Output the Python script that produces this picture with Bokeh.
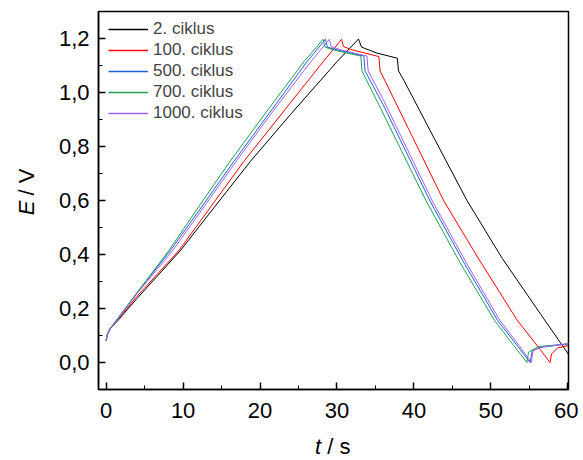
import math
from bokeh.plotting import figure
from bokeh.layouts import row, column
from bokeh.models import (Range1d, FixedTicker, CustomJSTickFormatter, Legend,
                          LegendItem)
from bokeh.core.properties import value
from bokeh.embed import file_html
from bokeh.resources import INLINE

# ---- data ----
t_2 = [0, 0.1, 0.5, 1.5, 4, 9.6, 14, 18.75, 24, 30.0, 32.8, 33.2, 35.2, 37.85,
       38.0, 38.7, 42.5, 46.9, 51.5, 56.5, 60.1]
E_2 = [0.08, 0.10, 0.125, 0.155, 0.237, 0.413, 0.573, 0.745, 0.92, 1.114, 1.198,
       1.168, 1.146, 1.127, 1.08, 1.045, 0.838, 0.60, 0.385, 0.178, 0.03]

t_100 = [0, 0.1, 0.5, 1.5, 4, 9.4, 13.5, 17.9, 23, 28.2, 30.6, 30.85, 32, 33.5,
         35.45, 35.6, 36.3, 40, 43.9, 48.5, 53.4, 56.5, 57.7, 57.9, 58.7, 60.1]
E_100 = [0.08, 0.10, 0.125, 0.158, 0.245, 0.413, 0.573, 0.745, 0.928, 1.114,
         1.197, 1.17, 1.158, 1.147, 1.133, 1.08, 1.04, 0.825, 0.598, 0.38,
         0.158, 0.045, 0.0, 0.032, 0.054, 0.063]

t_500 = [0, 0.1, 0.5, 1.5, 4, 8.3, 12.5, 16.6, 21.5, 26.1, 28.5, 28.75, 30,
         31.5, 33.5, 33.65, 36, 42.1, 46.5, 50.9, 53.5, 55.1, 55.4, 56.4, 60.1]
E_500 = [0.08, 0.10, 0.125, 0.163, 0.258, 0.413, 0.58, 0.745, 0.935, 1.114,
         1.197, 1.168, 1.158, 1.148, 1.135, 1.08, 0.955, 0.598, 0.37, 0.155,
         0.06, 0.0, 0.044, 0.056, 0.069]

t_700 = [0, 0.1, 0.5, 1.5, 4, 8.1, 12.1, 16.1, 21, 25.7, 28.2, 28.45, 29.5, 31,
         33.1, 33.25, 35.7, 41.6, 46, 50.5, 53, 54.7, 54.9, 56.2, 60.1]
E_700 = [0.08, 0.10, 0.125, 0.163, 0.258, 0.413, 0.58, 0.745, 0.935, 1.114,
         1.197, 1.168, 1.158, 1.148, 1.135, 1.08, 0.94, 0.598, 0.37, 0.155,
         0.062, 0.0, 0.038, 0.059, 0.069]

t_1000 = [0, 0.1, 0.5, 1.5, 4, 8.6, 12.8, 16.9, 21.8, 26.6, 29.0, 29.25, 30.5,
          32, 33.9, 34.05, 36, 42.4, 46.8, 51.2, 53.8, 55.25, 55.5, 56.5, 60.1]
E_1000 = [0.08, 0.10, 0.125, 0.16, 0.255, 0.413, 0.58, 0.745, 0.935, 1.114,
          1.197, 1.17, 1.158, 1.148, 1.135, 1.08, 0.975, 0.598, 0.37, 0.155,
          0.058, 0.0, 0.044, 0.057, 0.07]

labels = ["2. ciklus", "100. ciklus", "500. ciklus", "700. ciklus", "1000. ciklus"]
colors = ["#000000", "#ff0000", "#2060e0", "#20a050", "#a060f0"]
series = [(t_2, E_2), (t_100, E_100), (t_500, E_500), (t_700, E_700), (t_1000, E_1000)]

x_ticks = [0, 10, 20, 30, 40, 50, 60]
x_minor = [5, 15, 25, 35, 45, 55]
y_ticks = [0.0, 0.2, 0.4, 0.6, 0.8, 1.0, 1.2]
y_minor = [0.1, 0.3, 0.5, 0.7, 0.9, 1.1]

FONT = "Liberation Sans"
LEFT_W = 44      # width of the strip holding the y-axis title
MAIN_W = 534
MAIN_H = 427
TOTAL_H = 460

# ---- main chart ----
p = figure(width=MAIN_W, height=MAIN_H, output_backend="svg", toolbar_location=None,
           x_range=Range1d(-1, 60.1), y_range=Range1d(-0.1, 1.3),
           min_border_left=54, min_border_top=11, min_border_right=10,
           min_border_bottom=MAIN_H - 389)
p.xgrid.grid_line_color = None
p.ygrid.grid_line_color = None
p.outline_line_color = "black"
p.outline_line_width = 1.5
p.outline_line_alpha = 1.0

p.xaxis.ticker = FixedTicker(ticks=x_ticks, minor_ticks=x_minor)
p.yaxis.ticker = FixedTicker(ticks=y_ticks, minor_ticks=y_minor)
p.yaxis.formatter = CustomJSTickFormatter(code="return tick.toFixed(1).replace('.', ',');")

for ax in (p.xaxis[0], p.yaxis[0]):
    ax.major_tick_in = 7
    ax.major_tick_out = 0
    ax.minor_tick_in = 4
    ax.minor_tick_out = 0
    ax.axis_line_width = 1.5
    ax.major_tick_line_width = 1.5
    ax.minor_tick_line_width = 1
    ax.major_label_text_font = FONT
    ax.major_label_text_font_size = "22px"
    ax.major_label_text_color = "black"
p.xaxis.major_label_standoff = 13
p.yaxis.major_label_standoff = 9

for (t, e), c in zip(series, colors):
    p.line(t, e, line_color=c, line_width=1)

# legend samples: same colours, no visible data of their own
nan = float("nan")
legend_renderers = [p.line(x=[nan], y=[nan], line_color=c, line_width=1.3) for c in colors]

legend = Legend(items=[LegendItem(label=l, renderers=[r])
                       for l, r in zip(labels, legend_renderers)],
                location=(10, 266), padding=0, margin=0, spacing=1,
                label_height=20, glyph_height=20, glyph_width=40, label_standoff=5,
                label_text_font=FONT, label_text_font_size="17px",
                border_line_color=None, background_fill_alpha=0)
p.add_layout(legend)

# ---- strips holding the axis titles (pixel coordinates) ----
def strip(w, h):
    f = figure(width=w, height=h, output_backend="svg", toolbar_location=None,
               title=None, x_range=Range1d(0, w), y_range=Range1d(0, h),
               x_axis_type=None, y_axis_type=None,
               min_border_left=0, min_border_right=0, min_border_top=0,
               min_border_bottom=0)
    f.xgrid.grid_line_color = None
    f.ygrid.grid_line_color = None
    f.outline_line_color = None
    return f

txt = dict(text_font=value(FONT), text_font_size="22px", text_color="black",
           text_baseline="middle")

ly = strip(LEFT_W, TOTAL_H)
ly.text(x=[25.5], y=[TOTAL_H - 200], text=["E"], angle=math.pi / 2, text_align="right",
        text_font_style="italic", **txt)
ly.text(x=[25.5], y=[TOTAL_H - 195], text=["/ V"], angle=math.pi / 2, text_align="left",
        **txt)

BX_H = TOTAL_H - MAIN_H
bx = strip(MAIN_W, BX_H)
bx.text(x=[297 - LEFT_W], y=[TOTAL_H - 446], text=["t"], text_align="right",
        text_font_style="italic", **txt)
bx.text(x=[304 - LEFT_W], y=[TOTAL_H - 446], text=["/ s"], text_align="left", **txt)

layout = row(ly, column(p, bx, spacing=0), spacing=0)

open("out.html", "w").write(file_html(layout, INLINE))
